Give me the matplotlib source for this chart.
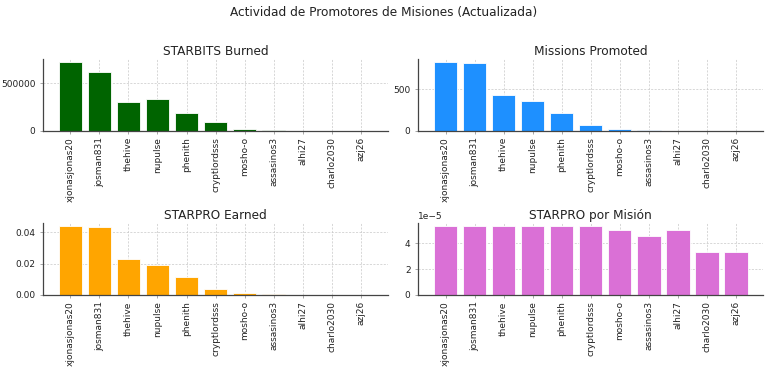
import matplotlib
matplotlib.use("Agg")
import numpy as np
from matplotlib import pyplot as plt
from matplotlib.ticker import MultipleLocator

promotores = ["xjonasjonas20", "josman831", "thehive", "nupulse", "phenith",
              "cryptlordsss", "mosho-o", "assasinos3", "alhi27", "charlo2030", "azj26"]
starbits_burned = [723000, 617000, 308000, 340000, 191000, 96000, 20000, 8000, 0, 0, 0]
missions_promoted = [829, 817, 439, 366, 220, 73, 25, 7, 1, 1, 1]
starpro_earned = [0.0439, 0.0432, 0.0233, 0.0194, 0.0117, 0.0039, 0.00125, 0.00032,
                  0.00005, 0.000033, 0.000033]
starpro_por_mision = [5.3e-5, 5.3e-5, 5.3e-5, 5.3e-5, 5.3e-5, 5.3e-5, 5.0e-5, 4.55e-5,
                      5.0e-5, 3.33e-5, 3.33e-5]

paneles = [
    ("STARBITS Burned", starbits_burned, "darkgreen", 500000),
    ("Missions Promoted", missions_promoted, "dodgerblue", 500),
    ("STARPRO Earned", starpro_earned, "orange", 0.02),
    ("STARPRO por Misión", starpro_por_mision, "orchid", 2e-5),
]

fig, axes = plt.subplots(2, 2, figsize=(7.68, 3.7), dpi=100)
fig.subplots_adjust(left=0.056, right=0.994, top=0.841, bottom=0.203,
                    wspace=0.087, hspace=1.28)

for ax, (titulo, valores, color, paso) in zip(axes.flat, paneles):
    ax.bar(promotores, valores, color=color, edgecolor="white", linewidth=0.6)
    ax.set_title(titulo, fontsize=8.7, color="#222222", pad=3)
    ax.yaxis.set_major_locator(MultipleLocator(paso))
    ax.grid(True, linestyle=(0, (3, 2)), linewidth=0.5, color="#c8c8c8")
    ax.set_axisbelow(True)
    for lado in ["top", "right"]:
        ax.spines[lado].set_visible(False)
    for lado in ["left", "bottom"]:
        ax.spines[lado].set_color("#444444")
        ax.spines[lado].set_linewidth(0.9)
    ax.tick_params(axis="x", rotation=90, labelsize=6.5, length=2.5, width=0.6,
                   pad=2, colors="#222222", color="#999999")
    ax.tick_params(axis="y", labelsize=6.5, length=2.5, width=0.6,
                   pad=3, colors="#222222", color="#999999")
    ax.yaxis.get_offset_text().set_fontsize(6.5)
    ax.yaxis.get_offset_text().set_color("#222222")

fig.suptitle("Actividad de Promotores de Misiones (Actualizada)", fontsize=8.7,
             color="#222222", y=0.985)

plt.savefig("out.png", dpi=100)
